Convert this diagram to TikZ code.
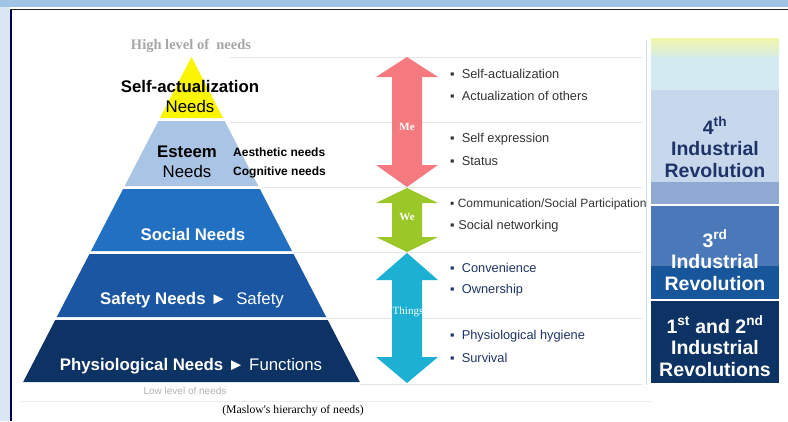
\documentclass[tikz,border=0pt]{standalone}
\usepackage{fontspec}
\setmainfont{Liberation Sans}
\newfontfamily\timesfont{Liberation Serif}
\usetikzlibrary{positioning}

\definecolor{selfyellow}{RGB}{250,245,0}
\definecolor{esteemblue}{RGB}{169,196,228}
\definecolor{socialblue}{RGB}{34,112,194}
\definecolor{safetyblue}{RGB}{26,86,162}
\definecolor{physnavy}{RGB}{13,50,100}
\definecolor{mepink}{RGB}{245,122,128}
\definecolor{wegreen}{RGB}{155,200,40}
\definecolor{thingscyan}{RGB}{28,176,210}
\definecolor{framelight}{RGB}{160,196,228}
\definecolor{guidegray}{RGB}{228,228,228}
\definecolor{textnavy}{RGB}{30,52,104}
\definecolor{revyellow}{RGB}{242,246,170}
\definecolor{revmint}{RGB}{214,236,232}
\definecolor{revcyan}{RGB}{210,234,240}
\definecolor{revpale}{RGB}{200,216,236}
\definecolor{revmid}{RGB}{143,170,210}
\definecolor{revthird}{RGB}{74,120,184}
\definecolor{revdeep}{RGB}{24,86,156}

\begin{document}
\begin{tikzpicture}[x=1pt, y=-1pt,
    level_text/.style={align=center, inner sep=0pt, font=\fontsize{16.8}{20}\selectfont},
    side_text/.style={anchor=west, inner sep=0pt, font=\fontsize{12}{14}\selectfont\bfseries},
    bullet_text/.style={anchor=west, inner sep=0pt, font=\fontsize{12.8}{14}\selectfont, text=black!80},
    arrow_label/.style={inner sep=0pt, text=white, font=\fontsize{11}{12}\selectfont\timesfont\bfseries},
    rev_text/.style={align=center, inner sep=0pt, font=\fontsize{19.5}{21.5}\selectfont\bfseries}]
    \useasboundingbox (0,0) rectangle (788,421);

    % frame
    \fill[framelight] (0,0) rectangle (788,7);
    \fill[framelight!40] (0,7) rectangle (10,421);
    \draw[line width=1.5pt, black!85] (10,9.5) -- (788,9.5);
    \draw[line width=1.5pt, black!70!blue] (11,9.5) -- (11,421);

    % guide lines
    \foreach \y/\xs in {57/230, 122/230, 187/262, 252/292, 318/326, 384/360}
        \draw[guidegray, line width=0.8pt] (\xs,\y) -- (642,\y);
    \draw[framelight!50, line width=0.8pt] (646,40) -- (646,385);
    \draw[guidegray!70, line width=0.8pt] (20,401) -- (652,401);

    % pyramid
    \foreach \t/\b/\c in {57/118/selfyellow, 121/186/esteemblue, 189/251/socialblue, 254/317/safetyblue, 320/382/physnavy}
        \fill[\c] ({191.5-0.518*(\t-57)},\t) -- ({191.5+0.518*(\t-57)},\t)
            -- ({191.5+0.518*(\b-57)},\b) -- ({191.5-0.518*(\b-57)},\b) -- cycle;

    \node[inner sep=0pt, text=black!35, font=\fontsize{14.5}{16}\selectfont\timesfont\bfseries] (high) at (191,46) {High level of \ needs};
    \node[level_text] (selfact) at (190,96) {\textbf{Self-actualization}\\Needs};
    \node[level_text] (esteem) at (187,162) {\textbf{Esteem}\\Needs};
    \node[side_text] (aesthetic) at (233,152) {Aesthetic needs};
    \node[side_text] (cognitive) at (233,172) {Cognitive needs};
    \node[level_text, text=white, font=\fontsize{16.8}{20}\selectfont\bfseries] (social) at (193,234) {Social Needs};
    \node[level_text, text=white] (safety) at (192,300) {\textbf{Safety Needs} ► \ Safety};
    \node[level_text, text=white] (phys) at (191,366) {\textbf{Physiological Needs} ► Functions};
    \node[inner sep=0pt, text=black!30, font=\fontsize{10}{12}\selectfont] (low) at (185,391) {Low level of needs};
    \node[inner sep=0pt, font=\fontsize{11.7}{13}\selectfont\timesfont] (caption) at (293,411) {(Maslow's hierarchy of needs)};

    % double arrows
    \foreach \t/\b/\ht/\hb/\c in {57/187/20/22/mepink, 188/252/15/15/wegreen, 253/383/27/26/thingscyan}
        \fill[\c] (407,\t) -- (438,{\t+\ht}) -- (422,{\t+\ht}) -- (422,{\b-\hb}) -- (438,{\b-\hb})
            -- (407,\b) -- (376,{\b-\hb}) -- (392,{\b-\hb}) -- (392,{\t+\ht}) -- (376,{\t+\ht}) -- cycle;
    \node[arrow_label] (me) at (407,127) {Me};
    \node[arrow_label] (we) at (407,217) {We};
    \node[arrow_label, font=\fontsize{11}{12}\selectfont\timesfont] (things) at (408,312) {Things};

    % bullet lists
    \node[bullet_text] (b1) at (450,74) {▪\ \ Self-actualization};
    \node[bullet_text] (b2) at (450,96) {▪\ \ Actualization of others};
    \node[bullet_text] (b3) at (450,139) {▪\ \ Self expression};
    \node[bullet_text] (b4) at (450,161) {▪\ \ Status};
    \node[bullet_text, font=\fontsize{12}{14}\selectfont] (b5) at (450,204) {▪ Communication/Social Participation};
    \node[bullet_text] (b6) at (450,226) {▪ Social networking};
    \node[bullet_text, text=textnavy] (b7) at (450,268) {▪\ \ Convenience};
    \node[bullet_text, text=textnavy] (b8) at (450,290) {▪\ \ Ownership};
    \node[bullet_text, text=textnavy] (b9) at (450,336) {▪\ \ Physiological hygiene};
    \node[bullet_text, text=textnavy] (b10) at (450,358) {▪\ \ Survival};

    % revolutions column
    \shade[top color=revyellow, bottom color=revmint] (651,38) rectangle (779,57);
    \fill[revcyan] (651,57) rectangle (779,90);
    \fill[revpale] (651,90) rectangle (779,182);
    \fill[revmid] (651,182) rectangle (779,204);
    \fill[revthird] (651,206) rectangle (779,266);
    \fill[revdeep] (651,266) rectangle (779,299);
    \fill[physnavy] (651,301) rectangle (779,383);

    \node[rev_text, text=textnavy] (fourth) at (715,147) {4\textsuperscript{th}\\Industrial\\Revolution};
    \node[rev_text, text=white] (third) at (715,260) {3\textsuperscript{rd}\\Industrial\\Revolution};
    \node[rev_text, text=white] (first) at (715,346) {1\textsuperscript{st} and 2\textsuperscript{nd}\\Industrial\\Revolutions};
\end{tikzpicture}
\end{document}
